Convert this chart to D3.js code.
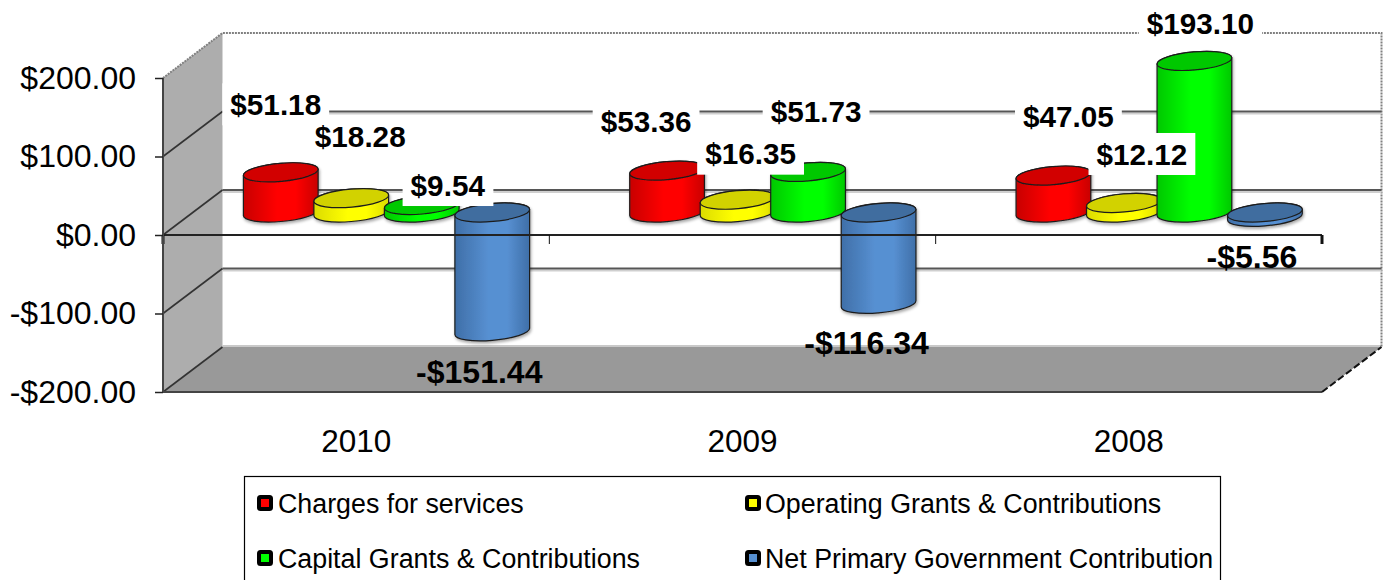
<!DOCTYPE html>
<html>
<head>
<meta charset="utf-8">
<script src="https://cdn.jsdelivr.net/npm/d3@7/dist/d3.min.js"></script>
<style>
  html, body { margin: 0; padding: 0; background: #fff; overflow: hidden; }
  svg { display: block; }
  text { font-family: "Liberation Sans", Arial, sans-serif; fill: #000; }
</style>
</head>
<body>
<svg id="chart" width="1387" height="580"></svg>
<script>
// Chart values
const years = ["2010", "2009", "2008"];
const seriesNames = [
  "Charges for services",
  "Operating Grants & Contributions",
  "Capital Grants & Contributions",
  "Net Primary Government Contribution"
];
const chargesForServices = [51.18, 53.36, 47.05];
const operatingGrants = [18.28, 16.35, 12.12];
const capitalGrants = [9.54, 51.73, 193.10];
const netContribution = [-151.44, -116.34, -5.56];
const yTicks = [-200, -100, 0, 100, 200];
const yTickLabels = ["-$200.00", "-$100.00", "$0.00", "$100.00", "$200.00"];

// Label placement relative to each bar's far end, one [dx, dy] per year
const chargesLabelNudge = [[-5, -68], [-21, -49], [15, -59]];
const operatingLabelNudge = [[9, -62], [13, -46], [18, -49]];
const capitalLabelNudge = [[26, -20], [8, -61], [6, -38]];
const netLabelNudge = [[-13, 40], [-12, 39], [-13, 40]];

const seriesValues = [chargesForServices, operatingGrants, capitalGrants, netContribution];
const labelNudges = [chargesLabelNudge, operatingLabelNudge, capitalLabelNudge, netLabelNudge];
const palette = [
  { edge: "#c80000", mid: "#ff0000", top: "#d20000" },
  { edge: "#dcdc00", mid: "#ffff00", top: "#d2d200" },
  { edge: "#00c800", mid: "#00ff00", top: "#00c800" },
  { edge: "#3f6fa8", mid: "#5790d2", top: "#3f6d9f" }
];

const svg = d3.select("#chart");

// Front plane of the 3D box and the depth shift to the back wall
const left = 163, right = 1322, yFront = d3.scaleLinear().domain([-200, 200]).range([392, 78]);
const depthX = 59.5, depthY = -45;

const x = d3.scaleBand().domain(years).range([left, right]);
const inner = d3.scaleBand().domain(d3.range(4)).range([0, 282]);
const barX = (yi, si) => x(years[yi]) + 52.5 + 30 + inner(si) + inner.bandwidth() / 2;
const yBar = v => yFront(v) + depthY / 2;

// Gradients and soft shadow
const defs = svg.append("defs");
palette.forEach((c, i) => {
  const g = defs.append("linearGradient").attr("id", "body" + i);
  g.append("stop").attr("offset", "0%").attr("stop-color", c.edge);
  g.append("stop").attr("offset", "45%").attr("stop-color", c.mid);
  g.append("stop").attr("offset", "70%").attr("stop-color", c.mid);
  g.append("stop").attr("offset", "100%").attr("stop-color", c.edge);
});
const soft = defs.append("filter").attr("id", "soft")
  .attr("x", "-20%").attr("y", "-20%").attr("width", "140%").attr("height", "140%");
soft.append("feDropShadow").attr("dx", 1).attr("dy", 2).attr("stdDeviation", 1.6)
  .attr("flood-color", "#000").attr("flood-opacity", 0.35);

const poly = pts => "M" + pts.map(p => p.join(",")).join("L") + "Z";

// Walls and floor
const backL = left + depthX, backR = right + depthX;
const yTop = yFront(200), yBot = yFront(-200);
svg.append("path").attr("fill", "#adadad")
  .attr("d", poly([[left, yTop], [backL, yTop + depthY], [backL, yBot + depthY], [left, yBot]]));
svg.append("path").attr("fill", "#999999")
  .attr("d", poly([[backL, yBot + depthY], [backR, yBot + depthY], [right, yBot], [left, yBot]]));
svg.append("line").attr("stroke", "#c9c9c9").attr("stroke-width", 2)
  .attr("x1", backL).attr("x2", backR).attr("y1", yBot + depthY - 1).attr("y2", yBot + depthY - 1);

// Dotted outer edge of the back wall
const dotted = svg.append("g").attr("fill", "none").attr("stroke", "#808080")
  .attr("stroke-width", 2).attr("stroke-dasharray", "2 1");
dotted.append("path").attr("d", `M${left},${yTop}L${backL},${yTop + depthY}L${backR},${yTop + depthY}L${backR},${yBot + depthY}`);

// Gridlines on the back wall and their shadow
const gridTicks = yTicks.filter(t => t !== 200 && t !== -200);
svg.append("g").selectAll("line").data(gridTicks).join("line")
  .attr("x1", backL).attr("x2", backR)
  .attr("y1", d => yFront(d) + depthY + 2).attr("y2", d => yFront(d) + depthY + 2)
  .attr("stroke", "#cfcfcf").attr("stroke-width", 2);
svg.append("g").selectAll("line").data(gridTicks).join("line")
  .attr("x1", backL).attr("x2", backR)
  .attr("y1", d => yFront(d) + depthY).attr("y2", d => yFront(d) + depthY)
  .attr("stroke", "#565656").attr("stroke-width", 2);

// Gridlines running across the side wall
svg.append("g").selectAll("line").data(yTicks.filter(t => t !== 200)).join("line")
  .attr("x1", left).attr("x2", backL)
  .attr("y1", d => yFront(d)).attr("y2", d => yFront(d) + depthY)
  .attr("stroke", "#333").attr("stroke-width", 1.6);

// Slanted ellipse helpers for the cylinders
const rx = 37.5, ry = 9, tiltDeg = -5;
const tilt = tiltDeg * Math.PI / 180;
const tExt = Math.atan(-(ry / rx) * Math.tan(tilt));
const extX = rx * Math.cos(tExt) * Math.cos(tilt) - ry * Math.sin(tExt) * Math.sin(tilt);
const extY = rx * Math.cos(tExt) * Math.sin(tilt) + ry * Math.sin(tExt) * Math.cos(tilt);

function bodyPath(cx, yA, yB) {
  return `M${cx + extX},${yA + extY}L${cx + extX},${yB + extY}` +
    `A${rx},${ry} ${tiltDeg} 0 1 ${cx - extX},${yB - extY}` +
    `L${cx - extX},${yA - extY}A${rx},${ry} ${tiltDeg} 0 1 ${cx + extX},${yA + extY}Z`;
}

const bars = [];
years.forEach((yr, yi) => {
  seriesValues.forEach((vals, si) => {
    bars.push({ yi, si, v: vals[yi], nudge: labelNudges[si][yi], cx: barX(yi, si) });
  });
});

const cyl = svg.append("g").selectAll("g").data(bars).join("g").attr("filter", "url(#soft)");
cyl.append("path")
  .attr("d", d => bodyPath(d.cx, yBar(Math.max(d.v, 0)), yBar(Math.min(d.v, 0))))
  .attr("fill", d => `url(#body${d.si})`)
  .attr("stroke", "#1c1c1c").attr("stroke-width", 1.2);
cyl.append("ellipse")
  .attr("rx", rx).attr("ry", ry)
  .attr("transform", d => `translate(${d.cx},${yBar(Math.max(d.v, 0))}) rotate(${tiltDeg})`)
  .attr("fill", d => palette[d.si].top)
  .attr("stroke", "#1c1c1c").attr("stroke-width", 1.2);

// Zero baseline runs across the front of the box, over the cylinders
svg.append("line").attr("x1", left).attr("x2", right)
  .attr("y1", yFront(0)).attr("y2", yFront(0))
  .attr("stroke", "#222").attr("stroke-width", 2);

// Category ticks hang under the baseline
const catEdges = [left, ...years.map(y => x(y) + x.bandwidth())];
svg.append("g").selectAll("line").data(catEdges).join("line")
  .attr("x1", d => d).attr("x2", d => d)
  .attr("y1", yFront(0)).attr("y2", yFront(0) + 9)
  .attr("stroke", "#111")
  .attr("stroke-width", (d, i) => (i === 0 || i === catEdges.length - 1) ? 3 : 1);

// Front edges of the box
svg.append("path").attr("fill", "none").attr("stroke", "#444").attr("stroke-width", 2)
  .attr("d", `M${left},${yTop}L${left},${yBot}L${right},${yBot}`);
svg.append("line").attr("x1", right).attr("y1", yBot).attr("x2", backR).attr("y2", yBot + depthY)
  .attr("stroke", "#111").attr("stroke-width", 2).attr("stroke-dasharray", "7 3");

// Value axis
const axis = d3.axisLeft(yFront).tickValues(yTicks).tickSize(8).tickPadding(19)
  .tickFormat((d, i) => yTickLabels[i]);
const axisG = svg.append("g").attr("transform", `translate(${left},0)`).call(axis);
axisG.select(".domain").remove();
axisG.selectAll("line").attr("stroke", "#222").attr("stroke-width", 1.5);
axisG.selectAll("text").attr("font-size", 32).attr("font-family", '"Liberation Sans", Arial, sans-serif').style("fill", "#000");

// Year labels
svg.append("g").selectAll("text").data(years).join("text")
  .attr("x", d => x(d) + x.bandwidth() / 2).attr("y", 452)
  .attr("text-anchor", "middle").attr("font-size", 31.5).text(d => d);

// Value labels: positive ones sit on a white plate, negative ones are set larger
const usd = v => (v < 0 ? "-$" : "$") + Math.abs(v).toFixed(2);
const labels = svg.append("g").selectAll("g").data(bars).join("g")
  .attr("transform", d => `translate(${d.cx + d.nudge[0]},${yBar(d.v) + d.nudge[1]})`);
labels.append("text")
  .attr("text-anchor", "middle").attr("dy", "0.36em")
  .attr("font-size", d => d.v < 0 ? 32 : 29.7).attr("font-weight", "bold")
  .text(d => usd(d.v))
  .each(function (d) {
    if (d.v < 0) return;
    const b = this.getBBox();
    d3.select(this.parentNode).insert("rect", "text")
      .attr("x", b.x - 8).attr("width", b.width + 16)
      .attr("y", -21).attr("height", 42).attr("fill", "#fff");
  });

// Legend
const legendX = 244.5, legendY = 476.5;
svg.append("rect").attr("x", legendX).attr("y", legendY)
  .attr("width", 976).attr("height", 110)
  .attr("fill", "#fff").attr("stroke", "#000").attr("stroke-width", 1.2);
const legendPos = [[257, 503], [745, 503], [257, 558], [745, 558]];
const legend = svg.append("g").selectAll("g").data(seriesNames).join("g")
  .attr("transform", (d, i) => `translate(${legendPos[i][0]},${legendPos[i][1]})`);
legend.append("rect").attr("x", 2).attr("y", -6).attr("width", 12).attr("height", 12)
  .attr("rx", 1.5).attr("stroke", "#000").attr("stroke-width", 4)
  .attr("fill", (d, i) => palette[i].mid);
legend.append("text").attr("x", (d, i) => i % 2 ? 20 : 21).attr("dy", "0.36em").attr("font-size", 26.8).text(d => d);
</script>
</body>
</html>
